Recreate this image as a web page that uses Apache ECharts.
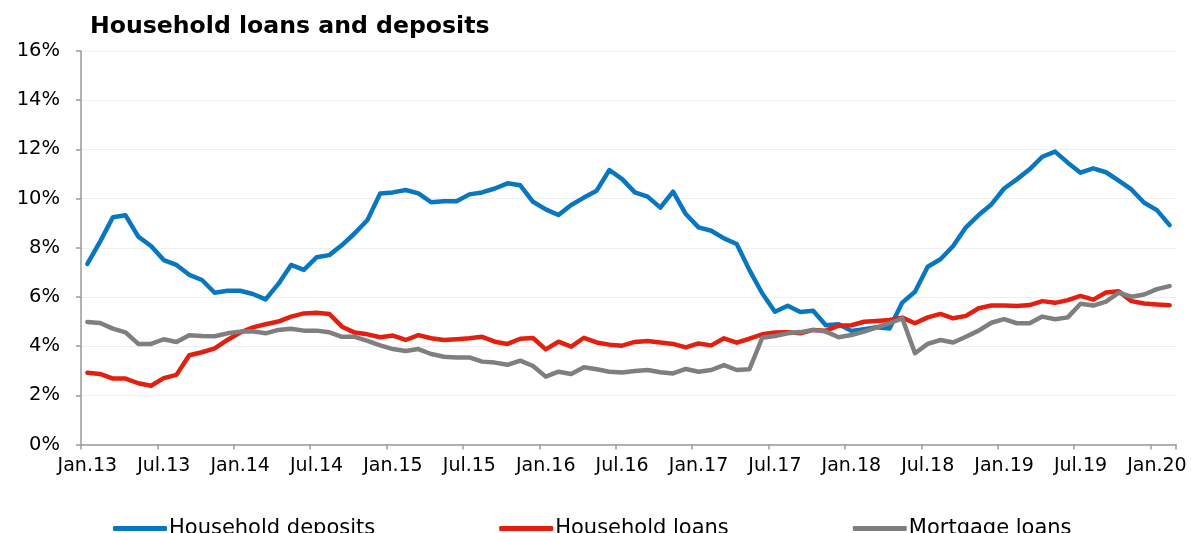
<!DOCTYPE html>
<html>
<head>
<meta charset="utf-8">
<script src="https://cdn.jsdelivr.net/npm/echarts@6.0.0/dist/echarts.min.js"></script>
<style>
html,body{margin:0;padding:0;background:#fff;}
#chart{width:1191px;height:533px;}
</style>
</head>
<body>
<div id="chart"></div>
<script>
var categories = [
 'Jan.13','Feb.13','Mar.13','Apr.13','May.13','Jun.13','Jul.13','Aug.13','Sep.13','Oct.13','Nov.13','Dec.13',
 'Jan.14','Feb.14','Mar.14','Apr.14','May.14','Jun.14','Jul.14','Aug.14','Sep.14','Oct.14','Nov.14','Dec.14',
 'Jan.15','Feb.15','Mar.15','Apr.15','May.15','Jun.15','Jul.15','Aug.15','Sep.15','Oct.15','Nov.15','Dec.15',
 'Jan.16','Feb.16','Mar.16','Apr.16','May.16','Jun.16','Jul.16','Aug.16','Sep.16','Oct.16','Nov.16','Dec.16',
 'Jan.17','Feb.17','Mar.17','Apr.17','May.17','Jun.17','Jul.17','Aug.17','Sep.17','Oct.17','Nov.17','Dec.17',
 'Jan.18','Feb.18','Mar.18','Apr.18','May.18','Jun.18','Jul.18','Aug.18','Sep.18','Oct.18','Nov.18','Dec.18',
 'Jan.19','Feb.19','Mar.19','Apr.19','May.19','Jun.19','Jul.19','Aug.19','Sep.19','Oct.19','Nov.19','Dec.19',
 'Jan.20','Feb.20'
];

var householdDeposits = [
 7.34, 8.25, 9.24, 9.32, 8.45, 8.07, 7.5, 7.3, 6.9, 6.69,
 6.17, 6.25, 6.25, 6.12, 5.9, 6.53, 7.3, 7.1, 7.61, 7.7,
 8.11, 8.59, 9.13, 10.21, 10.25, 10.35, 10.21, 9.85, 9.89, 9.89,
 10.17, 10.25, 10.41, 10.62, 10.54, 9.87, 9.56, 9.33, 9.74, 10.04,
 10.32, 11.16, 10.79, 10.25, 10.08, 9.63, 10.28, 9.37, 8.83, 8.69,
 8.38, 8.15, 7.09, 6.15, 5.4, 5.64, 5.39, 5.44, 4.85, 4.89,
 4.62, 4.69, 4.77, 4.72, 5.77, 6.21, 7.23, 7.53, 8.07, 8.83,
 9.33, 9.76, 10.41, 10.78, 11.19, 11.7, 11.91, 11.46, 11.05, 11.23,
 11.07, 10.73, 10.37, 9.83, 9.53, 8.92
];

var householdLoans = [
 2.92, 2.87, 2.68, 2.68, 2.49, 2.39, 2.7, 2.83, 3.63, 3.75,
 3.91, 4.25, 4.55, 4.76, 4.89, 5.0, 5.2, 5.33, 5.36, 5.31,
 4.79, 4.55, 4.48, 4.36, 4.43, 4.25, 4.45, 4.32, 4.25, 4.28,
 4.32, 4.38, 4.18, 4.09, 4.3, 4.33, 3.87, 4.18, 3.98, 4.34,
 4.15, 4.06, 4.02, 4.17, 4.21, 4.15, 4.09, 3.95, 4.11, 4.03,
 4.32, 4.14, 4.3, 4.48, 4.55, 4.56, 4.52, 4.66, 4.63, 4.83,
 4.85, 4.99, 5.02, 5.06, 5.16, 4.93, 5.17, 5.31, 5.13, 5.23,
 5.54, 5.65, 5.65, 5.63, 5.67, 5.83, 5.76, 5.87, 6.04, 5.89,
 6.18, 6.23, 5.83, 5.73, 5.69, 5.66
];

var mortgageLoans = [
 4.98, 4.94, 4.71, 4.56, 4.09, 4.09, 4.28, 4.17, 4.44, 4.41,
 4.4, 4.52, 4.59, 4.6, 4.52, 4.66, 4.71, 4.63, 4.63, 4.56,
 4.38, 4.38, 4.21, 4.03, 3.88, 3.8, 3.88, 3.68, 3.57, 3.54,
 3.54, 3.37, 3.33, 3.24, 3.41, 3.19, 2.76, 2.96, 2.87, 3.14,
 3.06, 2.96, 2.93, 2.99, 3.03, 2.94, 2.89, 3.07, 2.96, 3.03,
 3.23, 3.03, 3.06, 4.34, 4.41, 4.52, 4.57, 4.66, 4.59, 4.36,
 4.45, 4.59, 4.76, 4.93, 5.13, 3.71, 4.09, 4.25, 4.15, 4.38,
 4.63, 4.95, 5.1, 4.93, 4.93, 5.2, 5.09, 5.17, 5.72, 5.65,
 5.81, 6.17, 6.01, 6.1, 6.32, 6.44
];

var seriesNames = ['Household deposits', 'Household loans', 'Mortgage loans'];
var seriesColors = ['#0877C0', '#E3200F', '#7F7F7F'];
var FONT = '"DejaVu Sans", Verdana, sans-serif';

var chart = echarts.init(document.getElementById('chart'), null, {renderer: 'canvas'});

function lineSeries(name, data, color) {
  return {
    name: name,
    type: 'line',
    data: data,
    symbol: 'none',
    smooth: false,
    color: color,
    lineStyle: {width: 4.5, color: color, cap: 'round', join: 'round'},
    emphasis: {disabled: true}
  };
}

chart.setOption({
  backgroundColor: '#ffffff',
  animation: false,
  title: {
    text: 'Household loans and deposits',
    left: 85,
    top: 10,
    textStyle: {fontFamily: FONT, fontSize: 23.6, fontWeight: 'bold', color: '#000'}
  },
  legend: {
    data: seriesNames,
    left: 108,
    top: 513,
    itemGap: 124,
    itemWidth: 54,
    itemHeight: 5,
    icon: 'roundRect',
    textStyle: {fontFamily: FONT, fontSize: 21, color: '#000', padding: [0, 0, 0, -3]}
  },
  grid: {
    left: 81, right: 15, top: 51, bottom: 88.5,
    containLabel: false,
    outerBoundsMode: 'none'
  },
  xAxis: {
    type: 'category',
    data: categories,
    boundaryGap: true,
    axisLine: {show: true, lineStyle: {color: '#9a9a9a', width: 1.5}},
    axisTick: {show: true, interval: 5, length: 5, lineStyle: {color: '#9a9a9a', width: 1.5}},
    axisLabel: {interval: 5, margin: 12, fontFamily: FONT, fontSize: 19, color: '#000'},
    splitLine: {show: false}
  },
  yAxis: {
    type: 'value',
    min: 0, max: 16, interval: 2,
    axisLine: {show: true, lineStyle: {color: '#9a9a9a', width: 1.5}},
    axisTick: {show: true, length: 5, lineStyle: {color: '#9a9a9a', width: 1.5}},
    axisLabel: {formatter: '{value}%', margin: 21, fontFamily: FONT, fontSize: 19.5, color: '#000'},
    splitLine: {show: true, lineStyle: {color: '#efefef', width: 1}}
  },
  series: [
    lineSeries(seriesNames[0], householdDeposits, seriesColors[0]),
    lineSeries(seriesNames[1], householdLoans, seriesColors[1]),
    lineSeries(seriesNames[2], mortgageLoans, seriesColors[2])
  ]
});
</script>
</body>
</html>
